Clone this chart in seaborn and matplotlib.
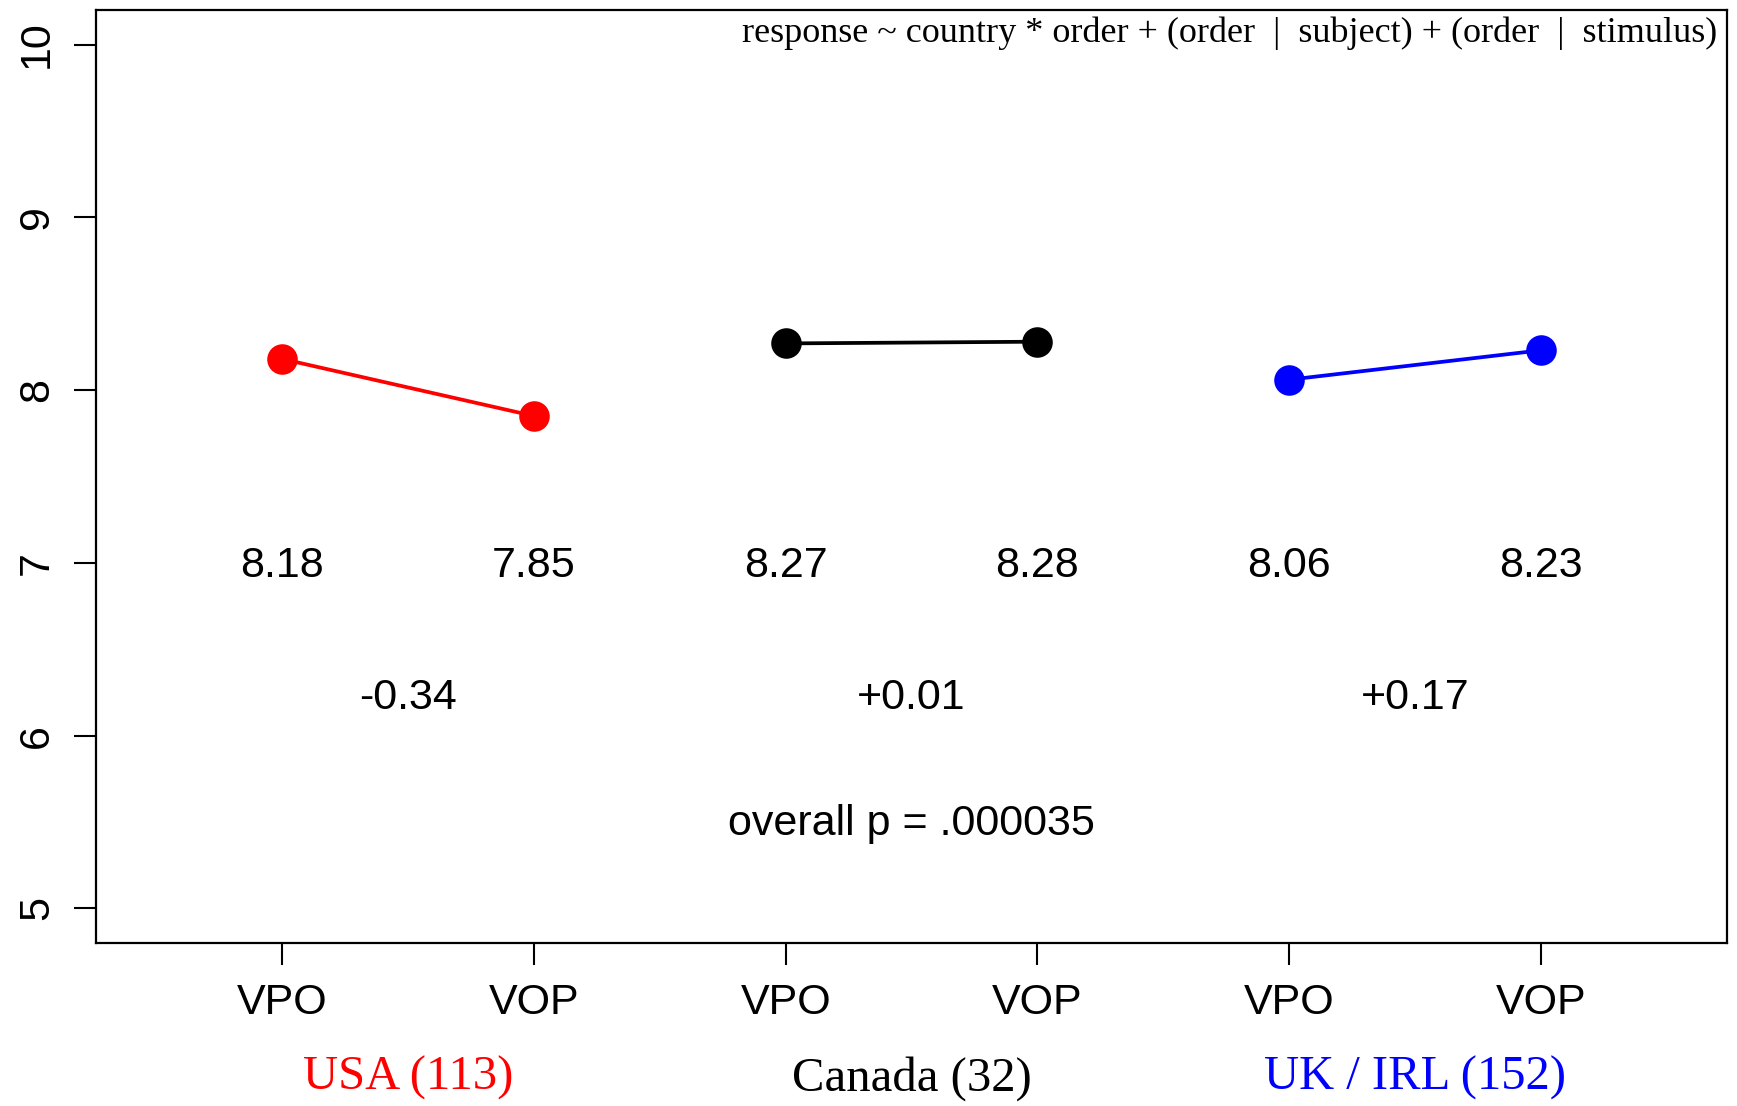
import numpy as np
import pandas as pd
import matplotlib
matplotlib.use('Agg')
import matplotlib.pyplot as plt
import seaborn as sns

# data
countries = ['USA (113)', 'Canada (32)', 'UK / IRL (152)']
colors = ['#ff0000', '#000000', '#0000ff']
orders = ['VPO', 'VOP']
means = [[8.18, 7.85], [8.27, 8.28], [8.06, 8.23]]
mean_labels = [['8.18', '7.85'], ['8.27', '8.28'], ['8.06', '8.23']]
diff_labels = ['-0.34', '+0.01', '+0.17']
p_label = 'overall p = .000035'
formula = 'response ~ country * order + (order  |  subject) + (order  |  stimulus)'

rows = []
pos = 1
for i in range(len(countries)):
    for j in range(len(orders)):
        rows.append({'pos': pos, 'value': means[i][j], 'country': countries[i],
                     'order': orders[j], 'label': mean_labels[i][j]})
        pos += 1
df = pd.DataFrame(rows)

sns.set_theme(style='white')
plt.rcParams['font.family'] = ['Liberation Sans', 'DejaVu Sans']
plt.rcParams['text.color'] = 'black'
plt.rcParams['xtick.color'] = 'black'
plt.rcParams['ytick.color'] = 'black'

fig = plt.figure(figsize=(17.37, 11.06), dpi=100)
ax = fig.add_axes([0.0553, 0.1474, 0.9389, 0.8436])

sns.lineplot(data=df, x='pos', y='value', hue='country', palette=colors,
             hue_order=countries, marker='o', markersize=22, markeredgewidth=0,
             linewidth=2.7, legend=False, ax=ax)

# mean values under each point
for _, r in df.iterrows():
    ax.text(r['pos'], 6.98, r['label'], ha='center', va='center', fontsize=31)

# differences and country names
for i in range(len(countries)):
    mid = df[df['country'] == countries[i]]['pos'].mean()
    ax.text(mid, 6.22, diff_labels[i], ha='center', va='center', fontsize=31)
    ax.text(mid, -0.145, countries[i], transform=ax.get_xaxis_transform(),
            ha='center', va='center', fontsize=35, color=colors[i],
            family='Liberation Serif')

ax.text(df['pos'].mean(), 5.49, p_label, ha='center', va='center', fontsize=31)
ax.text(0.994, 0.975, formula, transform=ax.transAxes, ha='right', va='center',
        fontsize=26, family='Liberation Serif')

ax.set_xlim(0.26, 6.74)
ax.set_ylim(4.8, 10.2)
ax.set_xticks(df['pos'])
ax.set_xticklabels(df['order'], fontsize=31)
ax.set_yticks([5, 6, 7, 8, 9, 10])
ax.set_yticklabels(['5', '6', '7', '8', '9', '10'], fontsize=31, rotation=90, va='center')
ax.tick_params(axis='both', direction='out', length=16, width=1.5, color='black',
               bottom=True, left=True)
ax.tick_params(axis='x', pad=13)
ax.tick_params(axis='y', pad=12)
ax.set_xlabel('')
ax.set_ylabel('')
for s in ax.spines.values():
    s.set_visible(True)
    s.set_color('black')
    s.set_linewidth(1.6)

plt.savefig('out.png', dpi=100)
